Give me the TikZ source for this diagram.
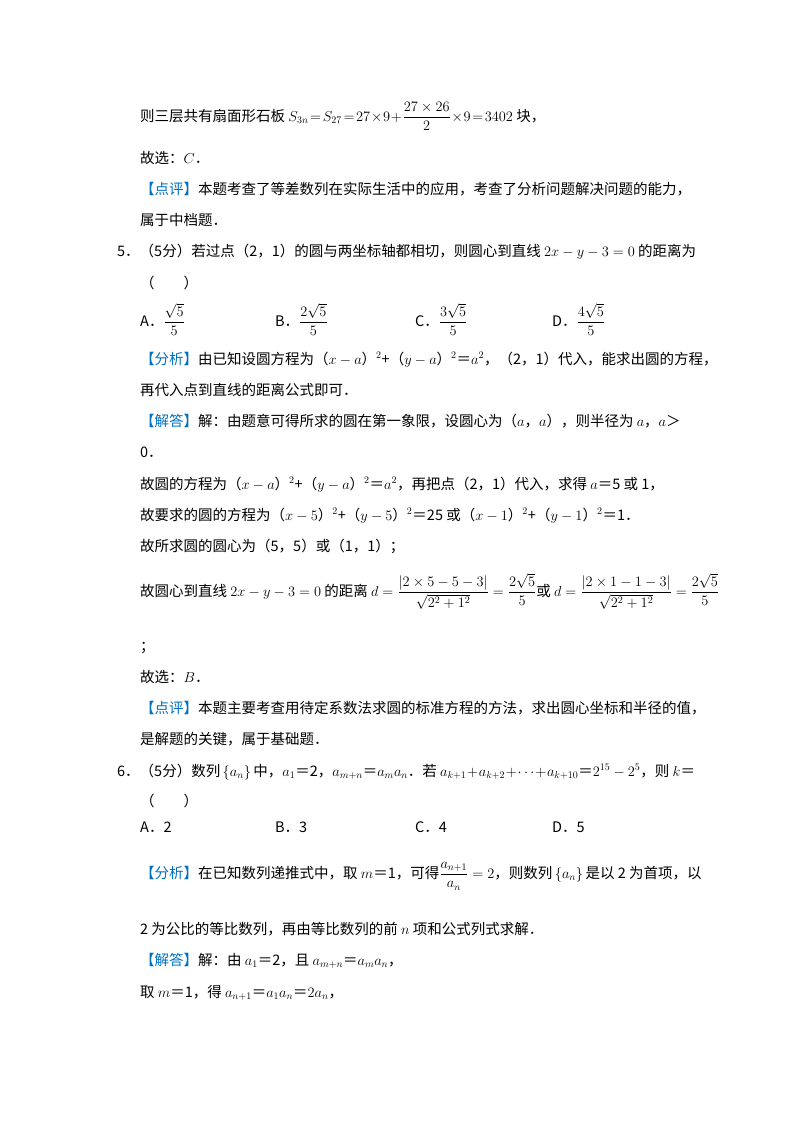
\documentclass[tikz,border=0pt]{standalone}
\usepackage{amsmath}
\usepackage{fontspec}
\setmainfont{Noto Sans CJK SC}
\definecolor{tagblue}{RGB}{0,112,192}
\newcommand{\btag}[1]{\textcolor{tagblue}{【#1】}}
\begin{document}
\begin{tikzpicture}[x=1pt,y=-1pt,
  txt/.style={anchor=base west,inner sep=0pt,font=\fontsize{14.5}{18}\selectfont}]
\useasboundingbox (0,0) rectangle (800,1132);
\node[txt] (l1) at (140,121) {则三层共有扇面形石板 $S_{3n}\!=\!S_{27}\!=\!27\!\times\!9\!+\!\dfrac{27\times26}{2}\!\times\!9\!=\!3402$ 块，};
\node[txt] (l2) at (140,163) {故选：$C$．};
\node[txt] (l3) at (140,194) {\btag{点评}本题考查了等差数列在实际生活中的应用，考查了分析问题解决问题的能力，};
\node[txt] (l4) at (140,225) {属于中档题．};
\node[txt] (l5) at (117,256) {5．（5分）若过点（2，1）的圆与两坐标轴都相切，则圆心到直线 $2x-y-3=0$ 的距离为};
\node[txt] (l6) at (140,288) {（\quad\quad）};
\node[txt] (oa) at (140,326) {A．$\dfrac{\sqrt5}{5}$};
\node[txt] (ob) at (275,326) {B．$\dfrac{2\sqrt5}{5}$};
\node[txt] (oc) at (415,326) {C．$\dfrac{3\sqrt5}{5}$};
\node[txt] (od) at (552,326) {D．$\dfrac{4\sqrt5}{5}$};
\node[txt] (l7) at (140,364) {\btag{分析}由已知设圆方程为（$x-a$）$^2$+（$y-a$）$^2$＝$a^2$，（2，1）代入，能求出圆的方程，};
\node[txt] (l8) at (140,395) {再代入点到直线的距离公式即可．};
\node[txt] (l9) at (140,426) {\btag{解答}解：由题意可得所求的圆在第一象限，设圆心为（$a$，$a$），则半径为 $a$，$a$＞};
\node[txt] (l10) at (140,457) {0．};
\node[txt] (l11) at (140,489) {故圆的方程为（$x-a$）$^2$+（$y-a$）$^2$＝$a^2$，再把点（2，1）代入，求得 $a$＝5 或 1，};
\node[txt] (l12) at (140,520) {故要求的圆的方程为（$x-5$）$^2$+（$y-5$）$^2$＝25 或（$x-1$）$^2$+（$y-1$）$^2$＝1．};
\node[txt] (l13) at (140,551) {故所求圆的圆心为（5，5）或（1，1）；};
\node[txt] (l14) at (140,596) {故圆心到直线 $2x-y-3=0$ 的距离 $d=\dfrac{|2\times5-5-3|}{\sqrt{2^2+1^2}}=\dfrac{2\sqrt5}{5}$或 $d=\dfrac{|2\times1-1-3|}{\sqrt{2^2+1^2}}=\dfrac{2\sqrt5}{5}$};
\node[txt] (l15) at (140,651) {；};
\node[txt] (l16) at (140,682) {故选：$B$．};
\node[txt] (l17) at (140,713) {\btag{点评}本题主要考查用待定系数法求圆的标准方程的方法，求出圆心坐标和半径的值，};
\node[txt] (l18) at (140,744) {是解题的关键，属于基础题．};
\node[txt] (l19) at (117,776) {6．（5分）数列\,$\{a_n\}$\,中，$a_1$＝2，$a_{m+n}$＝$a_ma_n$．若 $a_{k+1}\!+\!a_{k+2}\!+\!\cdots\!+\!a_{k+10}$＝$2^{15}-2^5$，则 $k$＝};
\node[txt] (l20) at (140,806) {（\quad\quad）};
\node[txt] (pa) at (140,832) {A．2};
\node[txt] (pb) at (275,832) {B．3};
\node[txt] (pc) at (415,832) {C．4};
\node[txt] (pd) at (552,832) {D．5};
\node[txt] (l21) at (140,878) {\btag{分析}在已知数列递推式中，取 $m$＝1，可得$\dfrac{a_{n+1}}{a_n}=2$，则数列\,$\{a_n\}$\,是以 2 为首项，以};
\node[txt] (l22) at (140,934) {2 为公比的等比数列，再由等比数列的前 $n$ 项和公式列式求解．};
\node[txt] (l23) at (140,965) {\btag{解答}解：由 $a_1$＝2，且 $a_{m+n}$＝$a_ma_n$，};
\node[txt] (l24) at (140,997) {取 $m$＝1，得 $a_{n+1}$＝$a_1a_n$＝$2a_n$，};
\end{tikzpicture}
\end{document}
